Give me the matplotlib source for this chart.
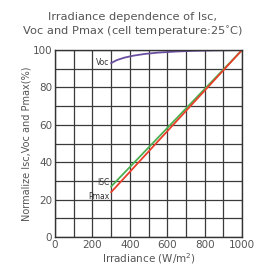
import matplotlib.pyplot as plt
import numpy as np

# irradiance (W/m2) and normalized values (%)
irr_voc = [300, 330, 370, 420, 480, 550, 650, 750, 850, 1000]
voc = [93.0, 94.6, 95.9, 97.0, 97.9, 98.6, 99.2, 99.6, 99.8, 100.0]
irr_lin = [300, 1000]
isc = [27, 100]
pmax = [24, 100]

fig = plt.figure(figsize=(2.66, 2.66), dpi=100)
ax = fig.add_axes([0.207, 0.109, 0.703, 0.703])

ax.set_xlim(0, 1000)
ax.set_ylim(0, 100)
ax.set_xticks(np.arange(0, 1001, 100), minor=True)
ax.set_yticks(np.arange(0, 101, 10), minor=True)
ax.set_xticks([0, 200, 400, 600, 800, 1000])
ax.set_yticks([0, 20, 40, 60, 80, 100])
ax.grid(True, which='both', color='#3a3a3a', lw=0.9)
ax.tick_params(which='both', length=0)
ax.tick_params(labelsize=7.5, colors='#555555', pad=2)
for s in ax.spines.values():
    s.set_color('#333333')
    s.set_linewidth(1)

ax.plot(irr_voc, voc, color='#6a4fa0', lw=1.3)
ax.plot(irr_lin, isc, color='#4caf50', lw=1.3)
ax.plot(irr_lin, pmax, color='#e8402a', lw=1.3)

ax.text(290, 93.5, 'Voc', fontsize=5.5, color='#333333', ha='right', va='center')
ax.text(290, 29, 'ISC', fontsize=5.5, color='#333333', ha='right', va='center')
ax.text(290, 21.5, 'Pmax', fontsize=5.5, color='#333333', ha='right', va='center')

ax.set_xlabel('Irradiance (W/m$^2$)', fontsize=7.5, color='#555555', labelpad=1)
ax.set_ylabel('Normalize Isc,Voc and Pmax(%)', fontsize=7, color='#555555', labelpad=1)
fig.text(0.5, 0.905, 'Irradiance dependence of Isc,\nVoc and Pmax (cell temperature:25$^{\\circ}$C)',
         ha='center', va='center', fontsize=8.2, color='#555555', linespacing=1.3)

fig.savefig('out.png', dpi=100, facecolor='white')
